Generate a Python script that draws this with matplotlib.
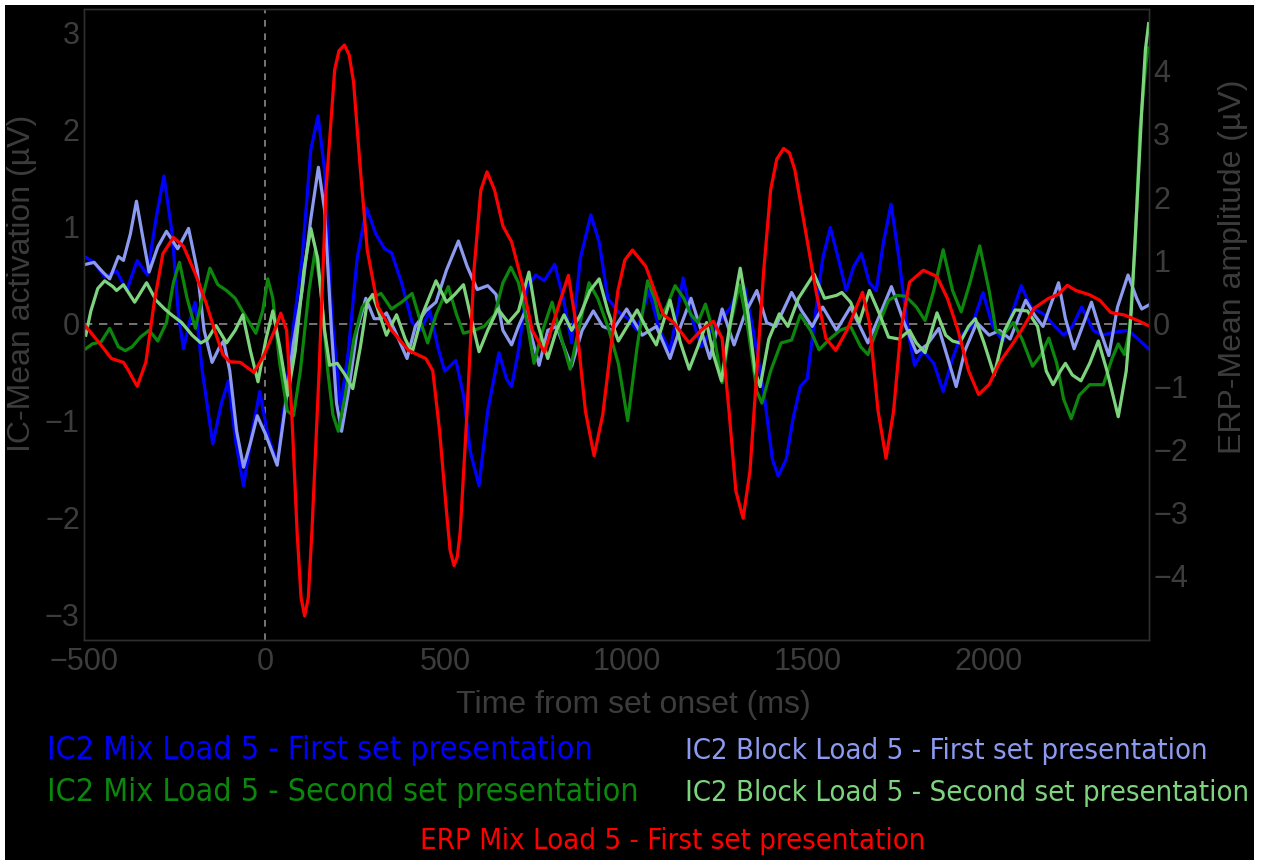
import matplotlib
matplotlib.use("Agg")
import matplotlib.pyplot as plt
from matplotlib.patches import Rectangle

plt.rcParams['font.family'] = ['Liberation Sans', 'DejaVu Sans']

# IC2 Mix Load 5 - First set presentation (left axis)
blue_t = [-495, -472, -443, -410, -382, -353, -325, -301, -279, -256, -239, -225, -209, -193, -173,
          -144, -120, -101, -80, -59, -35, -14, 8, 34, 55, 79, 103, 127, 147, 165, 184, 209, 231,
          255, 281, 307, 331, 350, 378, 407, 430, 456, 478, 497, 528, 549, 568, 592, 616, 647, 668,
          682, 701, 725, 749, 772, 801, 825, 848, 872, 901, 924, 948, 977, 1005, 1029, 1062, 1091,
          1120, 1139, 1156, 1178, 1206, 1235, 1264, 1288, 1307, 1326, 1350, 1379, 1403, 1419, 1441,
          1460, 1480, 1499, 1523, 1542, 1563, 1585, 1607, 1628, 1649, 1671, 1690, 1710, 1731, 1753,
          1777, 1796, 1820, 1849, 1875, 1901, 1925, 1954, 1985, 2012, 2040, 2064, 2091, 2117, 2156,
          2184, 2208, 2232, 2258, 2290, 2314, 2347, 2386, 2414, 2443]
blue_v = [0.68, 0.63, 0.48, 0.54, 0.34, 0.65, 0.50, 1.08, 1.52, 0.92, 0.09, -0.26, 0.01, 0.22, -0.49,
          -1.24, -0.82, -0.59, -1.23, -1.67, -1.11, -0.70, -1.15, -1.44, -0.82, -0.03, 0.67, 1.79, 2.14,
          1.58, 0.13, -0.86, -0.28, 0.67, 1.19, 0.92, 0.77, 0.73, 0.42, 0.01, -0.07, 0.13, -0.24, -0.49,
          -0.38, -0.74, -1.32, -1.67, -0.90, -0.30, -0.57, -0.65, -0.28, 0.38, 0.50, 0.44, 0.61, 0.26,
          -0.20, 0.67, 1.12, 0.84, 0.26, 0.12, 0.05, -0.07, 0.34, -0.07, -0.28, 0.09, 0.47, 0.09, -0.24,
          -0.07, 0.05, 0.17, 0.34, 0.38, -0.07, -0.70, -1.40, -1.57, -1.40, -0.98, -0.65, -0.57, 0.13,
          0.67, 0.99, 0.67, 0.34, 0.59, 0.72, 0.42, 0.34, 0.84, 1.23, 0.67, -0.07, -0.43, -0.28, -0.41,
          -0.70, -0.36, -0.12, -0.03, 0.32, -0.03, -0.18, 0.09, 0.39, 0.17, 0.09, -0.03, -0.12, -0.03,
          0.17, -0.07, -0.12, -0.09, -0.07, -0.16, -0.26]

# IC2 Block Load 5 - First set presentation (left axis)
lblue_t = [-495, -472, -448, -429, -405, -391, -372, -355, -339, -320, -296, -272, -241, -211, -187,
           -168, -146, -125, -114, -97, -78, -59, -40, -21, 3, 34, 55, 79, 103, 127, 148, 165, 184,
           198, 212, 231, 255, 279, 302, 321, 336, 359, 393, 416, 445, 473, 502, 535, 559, 587, 616,
           639, 658, 682, 701, 720, 739, 758, 782, 806, 829, 848, 877, 908, 934, 962, 1000, 1043,
           1082, 1120, 1149, 1178, 1206, 1230, 1264, 1297, 1326, 1360, 1387, 1412, 1456, 1484, 1513,
           1542, 1580, 1619, 1667, 1700, 1732, 1767, 1801, 1830, 1863, 1892, 1911, 1935, 1968, 2002,
           2031, 2060, 2103, 2127, 2151, 2194, 2213, 2237, 2285, 2309, 2333, 2357, 2386, 2410, 2424, 2443]
lblue_v = [0.61, 0.63, 0.53, 0.46, 0.69, 0.65, 0.92, 1.26, 0.92, 0.53, 0.79, 0.95, 0.77, 0.98, 0.55,
           -0.07, -0.40, -0.24, -0.18, -0.49, -1.11, -1.48, -1.23, -0.95, -1.15, -1.46, -0.90, -0.20,
           0.34, 1.08, 1.61, 1.17, -0.07, -0.82, -1.11, -0.70, -0.07, 0.26, 0.05, 0.05, 0.11, -0.07,
           -0.36, -0.03, 0.13, 0.22, 0.55, 0.85, 0.59, 0.35, 0.39, 0.30, -0.07, -0.22, -0.03, 0.13,
           -0.16, -0.43, -0.07, -0.03, -0.26, -0.44, -0.07, 0.13, -0.03, -0.07, 0.15, -0.12, -0.03,
           -0.36, -0.03, 0.26, -0.07, -0.36, 0.15, -0.22, 0.09, 0.34, 0.01, -0.03, 0.32, 0.13, -0.03,
           0.17, -0.07, 0.17, -0.20, 0.09, 0.38, 0.01, -0.30, -0.22, -0.05, -0.41, -0.65, -0.28, 0.01,
           -0.12, -0.07, -0.16, 0.24, 0.09, -0.03, 0.42, 0.05, -0.26, 0.22, -0.07, -0.33, 0.17, 0.50,
           0.26, 0.15, 0.19]

# IC2 Mix Load 5 - Second set presentation (left axis)
dgreen_t = [-495, -477, -453, -429, -405, -386, -367, -344, -320, -296, -272, -253, -236, -215, -192,
            -173, -152, -130, -106, -82, -59, -25, -6, 8, 22, 41, 62, 79, 98, 122, 139, 155, 174, 188,
            203, 222, 246, 269, 293, 321, 350, 378, 407, 431, 450, 473, 507, 530, 549, 578, 606, 635,
            658, 680, 701, 725, 744, 768, 794, 820, 844, 867, 896, 920, 948, 977, 1003, 1029, 1058,
            1077, 1091, 1110, 1134, 1158, 1178, 1197, 1218, 1240, 1264, 1288, 1312, 1336, 1360, 1374,
            1398, 1427, 1456, 1480, 1508, 1532, 1561, 1590, 1619, 1647, 1667, 1695, 1724, 1748, 1772,
            1801, 1825, 1849, 1875, 1901, 1925, 1949, 1976, 2002, 2021, 2040, 2069, 2093, 2122, 2146,
            2167, 2189, 2208, 2229, 2251, 2280, 2318, 2342, 2359, 2376, 2390, 2405, 2419, 2434, 2441]
dgreen_v = [-0.26, -0.21, -0.19, -0.05, -0.24, -0.28, -0.24, -0.14, -0.07, -0.18, 0.01, 0.42, 0.63,
            0.26, -0.05, 0.26, 0.57, 0.40, 0.34, 0.26, 0.11, -0.10, 0.13, 0.46, 0.26, -0.41, -0.90,
            -0.95, -0.49, 0.34, 0.75, 0.34, -0.49, -0.94, -1.11, -0.74, -0.16, 0.17, 0.26, 0.31, 0.15,
            0.22, 0.31, 0.01, -0.20, 0.09, 0.38, 0.09, -0.10, -0.07, -0.03, 0.09, 0.42, 0.58, 0.42,
            0.01, -0.41, -0.07, 0.22, -0.16, -0.47, -0.07, 0.42, 0.26, -0.03, -0.41, -1.00, -0.24,
            0.44, 0.26, 0.05, 0.17, 0.39, 0.26, 0.09, 0.01, 0.20, -0.10, -0.61, 0.01, 0.40, -0.07,
            -0.70, -0.82, -0.49, -0.20, -0.17, 0.09, -0.07, -0.27, -0.16, -0.07, -0.03, -0.24, -0.32,
            -0.03, 0.24, 0.29, 0.28, 0.17, 0.03, 0.34, 0.76, 0.34, 0.12, 0.42, 0.80, 0.34, -0.07,
            -0.12, 0.01, -0.16, -0.44, -0.32, -0.15, -0.41, -0.78, -0.98, -0.74, -0.63, -0.63, -0.36,
            -0.21, -0.32, -0.07, 0.75, 1.99, 2.62, 2.84]

# IC2 Block Load 5 - Second set presentation (left axis)
lgreen_t = [-495, -481, -462, -443, -420, -410, -391, -360, -327, -301, -277, -258, -230, -201, -177,
            -158, -135, -106, -82, -61, -40, -19, 3, 22, 41, 63, 84, 108, 127, 146, 165, 179, 200,
            222, 243, 264, 283, 298, 317, 336, 364, 388, 407, 435, 473, 502, 525, 549, 568, 592, 616,
            644, 673, 701, 730, 753, 782, 806, 827, 848, 872, 899, 924, 948, 977, 1029, 1058, 1082,
            1120, 1149, 1173, 1197, 1221, 1240, 1262, 1283, 1314, 1336, 1355, 1369, 1393, 1422, 1446,
            1475, 1518, 1547, 1580, 1595, 1619, 1643, 1671, 1700, 1724, 1753, 1782, 1801, 1825, 1858,
            1882, 1901, 1921, 1945, 1964, 1988, 2016, 2045, 2074, 2108, 2136, 2160, 2179, 2199, 2213,
            2232, 2256, 2280, 2304, 2328, 2359, 2381, 2395, 2410, 2424, 2434, 2443]
lgreen_v = [-0.12, 0.13, 0.36, 0.44, 0.38, 0.34, 0.40, 0.22, 0.42, 0.24, 0.15, 0.09, 0.01, -0.12,
            -0.20, -0.16, -0.02, -0.20, -0.07, 0.09, -0.28, -0.60, -0.16, 0.13, -0.24, -0.74, -0.28,
            0.55, 0.98, 0.67, -0.07, -0.43, -0.41, -0.53, -0.67, -0.24, 0.22, 0.30, 0.09, -0.12, 0.09,
            -0.16, -0.30, 0.09, 0.44, 0.22, 0.30, 0.40, 0.09, -0.29, -0.07, 0.15, 0.01, 0.13, 0.53,
            0.01, -0.36, -0.07, 0.09, -0.07, 0.09, 0.34, 0.46, 0.13, -0.18, 0.14, -0.07, -0.22, 0.24,
            -0.20, -0.47, -0.24, 0.01, -0.32, -0.59, -0.07, 0.57, 0.09, -0.49, -0.65, -0.16, 0.10,
            -0.03, 0.26, 0.51, 0.26, 0.29, 0.32, 0.22, 0.01, 0.34, 0.09, -0.14, -0.16, -0.07, -0.20,
            -0.30, 0.11, -0.12, -0.18, -0.20, -0.03, 0.05, -0.20, -0.53, -0.07, 0.14, 0.13, -0.03,
            -0.49, -0.63, -0.49, -0.41, -0.53, -0.59, -0.41, -0.18, -0.49, -0.96, -0.49, 0.13, 1.17,
            2.20, 2.82, 3.09]

# ERP Mix Load 5 - First set presentation (right axis)
erp_t = [-495, -458, -424, -391, -377, -353, -329, -306, -282, -253, -225, -192, -163, -139, -116,
         -97, -68, -30, -2, 27, 44, 60, 74, 89, 100, 110, 120, 130, 150, 169, 193, 205, 220, 233, 245,
         264, 283, 312, 350, 397, 445, 464, 483, 502, 512, 523, 532, 540, 559, 578, 597, 614, 635,
         658, 682, 711, 739, 773, 801, 839, 863, 886, 910, 934, 955, 976, 995, 1016, 1053, 1077,
         1101, 1130, 1173, 1206, 1240, 1264, 1283, 1302, 1322, 1341, 1360, 1379, 1398, 1415, 1434,
         1450, 1465, 1494, 1523, 1551, 1578, 1609, 1652, 1671, 1695, 1717, 1738, 1758, 1782, 1820,
         1858, 1887, 1916, 1945, 1973, 2002, 2031, 2069, 2098, 2127, 2165, 2194, 2218, 2242, 2280,
         2309, 2338, 2376, 2414, 2443]
erp_v = [-0.05, -0.31, -0.56, -0.62, -0.75, -1.00, -0.62, 0.33, 1.10, 1.36, 1.22, 0.78, 0.33, -0.11,
         -0.50, -0.61, -0.62, -0.78, -0.50, -0.11, 0.16, -0.11, -1.39, -3.30, -4.35, -4.64, -4.35,
         -3.30, -0.75, 2.11, 4.02, 4.32, 4.41, 4.25, 3.83, 2.43, 1.16, 0.27, -0.11, -0.43, -0.56,
         -0.75, -1.71, -2.98, -3.60, -3.84, -3.70, -3.30, -1.39, 0.84, 2.11, 2.40, 2.11, 1.54, 1.29,
         0.65, -0.11, -0.46, 0.08, 0.76, -0.11, -1.39, -2.10, -1.45, -0.45, 0.52, 1.00, 1.16, 0.90,
         0.52, 0.14, 0.01, -0.31, -0.11, 0.03, -0.24, -1.39, -2.66, -3.09, -2.34, -0.75, 0.84, 2.11,
         2.60, 2.77, 2.70, 2.43, 1.48, 0.52, -0.24, -0.43, -0.11, 0.49, 0.01, -1.39, -2.14, -1.39,
         -0.11, 0.65, 0.84, 0.74, 0.39, -0.11, -0.75, -1.13, -0.97, -0.62, -0.31, -0.05, 0.24, 0.39,
         0.46, 0.60, 0.52, 0.45, 0.36, 0.17, 0.13, 0.04, -0.04]

labels = ['IC2 Mix Load 5 - First set presentation',
          'IC2 Block Load 5 - First set presentation',
          'IC2 Mix Load 5 - Second set presentation',
          'IC2 Block Load 5 - Second set presentation',
          'ERP Mix Load 5 - First set presentation']
colors = ['#0000ff', '#8c9af0', '#0c860c', '#7ed47e', '#ff0000']

grey = '#3c3c3c'

fig = plt.figure(figsize=(12.68, 8.6), dpi=100, facecolor='white')
fig.add_artist(Rectangle((5 / 1268, 0), 1249 / 1268, 855 / 860, transform=fig.transFigure,
                         facecolor='black', edgecolor='none', zorder=-5))

ax = fig.add_axes([84 / 1268, 1 - 640 / 860, 1065 / 1268, 631 / 860])
ax.set_facecolor('black')
ax2 = ax.twinx()

ax.axhline(0, color='#8a8a8a', lw=1.2, ls=(0, (5, 4)), zorder=1)
ax.axvline(0, color='#8a8a8a', lw=1.2, ls=(0, (4, 4)), zorder=1)

lw = 2.3
ax.plot(blue_t, blue_v, color=colors[0], lw=lw, solid_joinstyle='round', zorder=2)
ax.plot(lblue_t, lblue_v, color=colors[1], lw=lw, solid_joinstyle='round', zorder=3)
ax.plot(dgreen_t, dgreen_v, color=colors[2], lw=lw, solid_joinstyle='round', zorder=4)
ax.plot(lgreen_t, lgreen_v, color=colors[3], lw=lw, solid_joinstyle='round', zorder=5)
ax2.plot(erp_t, erp_v, color=colors[4], lw=lw, solid_joinstyle='round')

ax.set_xlim(-500, 2444)
ax.set_ylim(-3.26, 3.24)
ax2.set_ylim(-5.02, 4.98)
ax.set_xticks([-500, 0, 500, 1000, 1500, 2000])
ax.set_yticks([-3, -2, -1, 0, 1, 2, 3])
ax2.set_yticks([-4, -3, -2, -1, 0, 1, 2, 3, 4])

for a in (ax, ax2):
    for sp in a.spines.values():
        sp.set_color('#2e2e2e')
        sp.set_linewidth(1)
ax.tick_params(axis='both', length=0, labelsize=22, labelcolor=grey)
ax.tick_params(axis='x', pad=5)
ax.tick_params(axis='y', pad=3)
ax2.tick_params(axis='y', length=0, labelsize=22, labelcolor=grey, pad=3)

ax.set_xlabel('Time from set onset (ms)', fontsize=23, color=grey, va='center')
ax.xaxis.set_label_coords(0.516, -0.103)
ax.set_ylabel('IC-Mean activation (µV)', fontsize=23, color=grey, va='center', ha='center')
ax.yaxis.set_label_coords(-0.058, 0.565)
ax2.set_ylabel('ERP-Mean amplitude (µV)', fontsize=23, color=grey, va='center', ha='center')
ax2.yaxis.set_label_coords(1.079, 0.591)

# condensed face for the legend lines
leg = dict(family=['DejaVu Sans'], fontstretch='condensed', va='center')
fig.text(47 / 1268, 1 - 751 / 860, labels[0], color=colors[0], fontsize=23, **leg)
fig.text(685 / 1268, 1 - 751 / 860, labels[1], color=colors[1], fontsize=21, **leg)
fig.text(47 / 1268, 1 - 793 / 860, labels[2], color=colors[2], fontsize=23, **leg)
fig.text(685 / 1268, 1 - 793 / 860, labels[3], color=colors[3], fontsize=21, **leg)
fig.text(673 / 1268, 1 - 841 / 860, labels[4], color=colors[4], fontsize=21, ha='center', **leg)

fig.savefig('out.png', dpi=100, facecolor=fig.get_facecolor())
